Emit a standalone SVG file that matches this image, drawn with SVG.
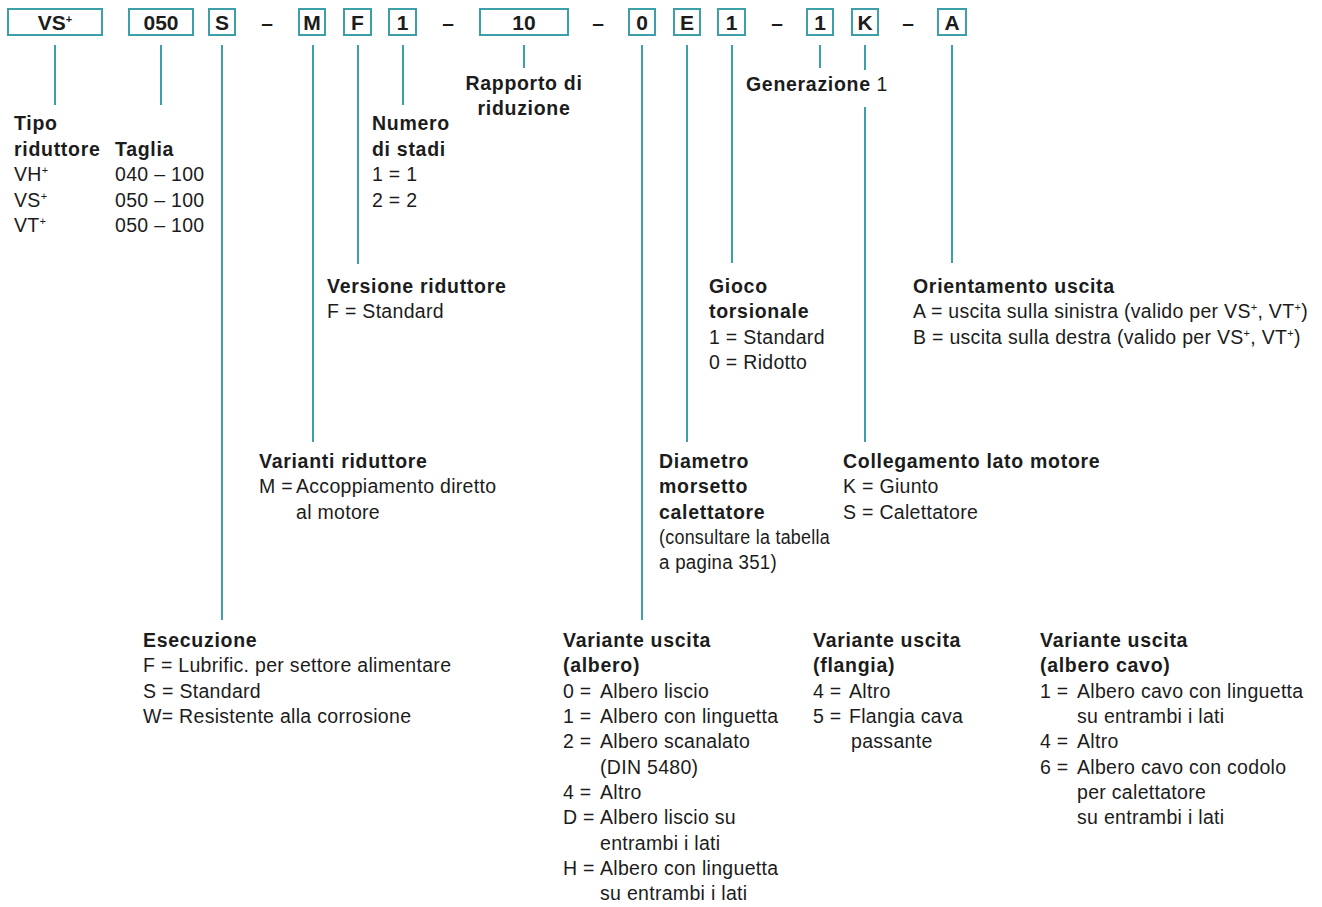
<svg xmlns="http://www.w3.org/2000/svg" width="1322" height="907" viewBox="0 0 1322 907">
<style>
text{font-family:"Liberation Sans",Arial,sans-serif;font-size:19.5px;letter-spacing:0.3px;fill:#1c1c1c}
.b{font-weight:bold;letter-spacing:0.7px}
.c{text-anchor:middle}
.k{font-size:21px;letter-spacing:0}
.box{fill:#fff;stroke:#3d9fa8;stroke-width:2}
.ln{stroke:#3d9fa8;stroke-width:2;fill:none}
.sup{font-size:11px}
</style>
<rect width="1322" height="907" fill="#fff"/>
<g id="connectors">
<line class="ln" x1="55" y1="45" x2="55" y2="105"/>
<line class="ln" x1="161" y1="45" x2="161" y2="105"/>
<line class="ln" x1="222" y1="45" x2="222" y2="620"/>
<line class="ln" x1="313" y1="45" x2="313" y2="442"/>
<line class="ln" x1="358" y1="45" x2="358" y2="264"/>
<line class="ln" x1="403" y1="45" x2="403" y2="105"/>
<line class="ln" x1="524" y1="45" x2="524" y2="68"/>
<line class="ln" x1="642" y1="45" x2="642" y2="620"/>
<line class="ln" x1="687" y1="45" x2="687" y2="442"/>
<line class="ln" x1="732" y1="45" x2="732" y2="263"/>
<line class="ln" x1="820" y1="45" x2="820" y2="68"/>
<line class="ln" x1="865" y1="45" x2="865" y2="70"/>
<line class="ln" x1="865" y1="107" x2="865" y2="442"/>
<line class="ln" x1="952" y1="45" x2="952" y2="263"/>
</g>
<g id="dashes">
<text class="b c k" x="267" y="30">–</text>
<text class="b c k" x="448" y="30">–</text>
<text class="b c k" x="598" y="30">–</text>
<text class="b c k" x="777" y="30">–</text>
<text class="b c k" x="908" y="30">–</text>
</g>
<g id="tipo">
<rect class="box" x="8" y="9" width="94" height="26"/>
<text class="b c k" x="55" y="30">VS<tspan class="sup" dy="-7">+</tspan></text>
<text class="b" x="14" y="130">Tipo</text>
<text class="b" x="14" y="155.5">riduttore</text>
<text x="14" y="181">VH<tspan class="sup" dy="-7">+</tspan></text>
<text x="14" y="206.5">VS<tspan class="sup" dy="-7">+</tspan></text>
<text x="14" y="232">VT<tspan class="sup" dy="-7">+</tspan></text>
</g>
<g id="taglia">
<rect class="box" x="129" y="9" width="64" height="26"/>
<text class="b c k" x="161" y="30">050</text>
<text class="b" x="115" y="155.5">Taglia</text>
<text x="115" y="181">040 – 100</text>
<text x="115" y="206.5">050 – 100</text>
<text x="115" y="232">050 – 100</text>
</g>
<g id="esecuzione">
<rect class="box" x="209" y="9" width="26" height="26"/>
<text class="b c k" x="222" y="30">S</text>
<text class="b" x="143" y="646.5">Esecuzione</text>
<text x="143" y="672">F = Lubrific. per settore alimentare</text>
<text x="143" y="697.5">S = Standard</text>
<text x="143" y="723">W= Resistente alla corrosione</text>
</g>
<g id="varianti">
<rect class="box" x="299" y="9" width="26" height="26"/>
<text class="b c k" x="312" y="30">M</text>
<text class="b" x="259" y="468">Varianti riduttore</text>
<text x="259" y="493">M =</text>
<text x="296" y="493">Accoppiamento diretto</text>
<text x="296" y="518.5">al motore</text>
</g>
<g id="versione">
<rect class="box" x="344" y="9" width="27" height="26"/>
<text class="b c k" x="357.5" y="30">F</text>
<text class="b" x="327" y="293">Versione riduttore</text>
<text x="327" y="318">F = Standard</text>
</g>
<g id="stadi">
<rect class="box" x="389" y="9" width="27" height="26"/>
<text class="b c k" x="402.5" y="30">1</text>
<text class="b" x="372" y="130">Numero</text>
<text class="b" x="372" y="155.5">di stadi</text>
<text x="372" y="181">1 = 1</text>
<text x="372" y="206.5">2 = 2</text>
</g>
<g id="rapporto">
<rect class="box" x="480" y="9" width="88" height="26"/>
<text class="b c k" x="524" y="30">10</text>
<text class="b c" x="524" y="90">Rapporto di</text>
<text class="b c" x="524" y="114.5">riduzione</text>
</g>
<g id="uscita">
<rect class="box" x="629" y="9" width="26" height="26"/>
<text class="b c k" x="642" y="30">0</text>
<text class="b" x="563" y="646.5">Variante uscita</text>
<text class="b" x="563" y="672">(albero)</text>
<text x="563" y="697.5">0 =</text><text x="600" y="697.5">Albero liscio</text>
<text x="563" y="723">1 =</text><text x="600" y="723">Albero con linguetta</text>
<text x="563" y="748">2 =</text><text x="600" y="748">Albero scanalato</text>
<text x="600" y="773.5">(DIN 5480)</text>
<text x="563" y="799">4 =</text><text x="600" y="799">Altro</text>
<text x="563" y="824">D =</text><text x="600" y="824">Albero liscio su</text>
<text x="600" y="849.5">entrambi i lati</text>
<text x="563" y="875">H =</text><text x="600" y="875">Albero con linguetta</text>
<text x="600" y="900">su entrambi i lati</text>
<text class="b" x="813" y="646.5">Variante uscita</text>
<text class="b" x="813" y="672">(flangia)</text>
<text x="813" y="697.5">4 =</text><text x="849" y="697.5">Altro</text>
<text x="813" y="723">5 =</text><text x="849" y="723">Flangia cava</text>
<text x="851" y="748">passante</text>
<text class="b" x="1040" y="646.5">Variante uscita</text>
<text class="b" x="1040" y="672">(albero cavo)</text>
<text x="1040" y="697.5">1 =</text><text x="1077" y="697.5">Albero cavo con linguetta</text>
<text x="1077" y="723">su entrambi i lati</text>
<text x="1040" y="748">4 =</text><text x="1077" y="748">Altro</text>
<text x="1040" y="773.5">6 =</text><text x="1077" y="773.5">Albero cavo con codolo</text>
<text x="1077" y="799">per calettatore</text>
<text x="1077" y="824">su entrambi i lati</text>
</g>
<g id="diametro">
<rect class="box" x="674" y="9" width="26" height="26"/>
<text class="b c k" x="687" y="30">E</text>
<text class="b" x="659" y="468">Diametro</text>
<text class="b" x="659" y="493">morsetto</text>
<text class="b" x="659" y="518.5">calettatore</text>
<text x="659" y="543.5" textLength="171" lengthAdjust="spacingAndGlyphs">(consultare la tabella</text>
<text x="659" y="569" textLength="118" lengthAdjust="spacingAndGlyphs">a pagina 351)</text>
</g>
<g id="gioco">
<rect class="box" x="718" y="9" width="27" height="26"/>
<text class="b c k" x="731.5" y="30">1</text>
<text class="b" x="709" y="293">Gioco</text>
<text class="b" x="709" y="318">torsionale</text>
<text x="709" y="343.5">1 = Standard</text>
<text x="709" y="369">0 = Ridotto</text>
</g>
<g id="generazione">
<rect class="box" x="807" y="9" width="26" height="26"/>
<text class="b c k" x="820" y="30">1</text>
<text x="746" y="91"><tspan class="b">Generazione</tspan> 1</text>
</g>
<g id="collegamento">
<rect class="box" x="852" y="9" width="26" height="26"/>
<text class="b c k" x="865" y="30">K</text>
<text class="b" x="843" y="468">Collegamento lato motore</text>
<text x="843" y="493">K = Giunto</text>
<text x="843" y="518.5">S = Calettatore</text>
</g>
<g id="orientamento">
<rect class="box" x="938" y="9" width="28" height="26"/>
<text class="b c k" x="952" y="30">A</text>
<text class="b" x="913" y="293">Orientamento uscita</text>
<text x="913" y="318">A = uscita sulla sinistra (valido per VS<tspan class="sup" dy="-7">+</tspan><tspan dy="7">, VT</tspan><tspan class="sup" dy="-7">+</tspan><tspan dy="7">)</tspan></text>
<text x="913" y="343.5">B = uscita sulla destra (valido per VS<tspan class="sup" dy="-7">+</tspan><tspan dy="7">, VT</tspan><tspan class="sup" dy="-7">+</tspan><tspan dy="7">)</tspan></text>
</g>
</svg>
